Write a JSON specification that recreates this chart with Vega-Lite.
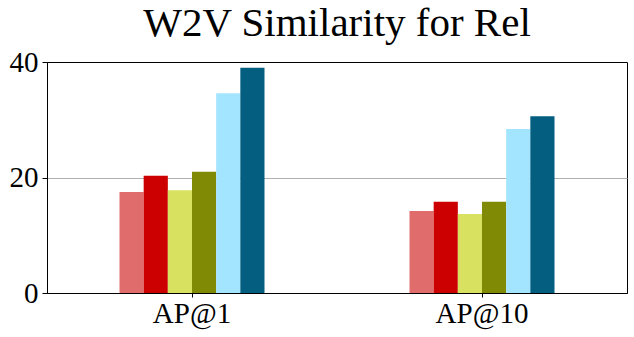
{
  "$schema": "https://vega.github.io/schema/vega-lite/v6.json",
  "width": 580,
  "height": 231,
  "autosize": {"type": "none"},
  "padding": {"left": 47, "top": 62, "right": 7, "bottom": 44},
  "background": "white",
  "title": {
    "text": "W2V Similarity for Rel",
    "font": "serif",
    "fontSize": 41,
    "fontWeight": "normal",
    "color": "black",
    "anchor": "middle",
    "frame": "group",
    "baseline": "bottom",
    "offset": -38
  },
  "data": {
    "values": [
      {"metric": "AP@1", "series": "S1", "value": 17.5},
      {"metric": "AP@1", "series": "S2", "value": 20.3},
      {"metric": "AP@1", "series": "S3", "value": 17.8},
      {"metric": "AP@1", "series": "S4", "value": 21.0},
      {"metric": "AP@1", "series": "S5", "value": 34.6},
      {"metric": "AP@1", "series": "S6", "value": 39.0},
      {"metric": "AP@10", "series": "S1", "value": 14.2},
      {"metric": "AP@10", "series": "S2", "value": 15.8},
      {"metric": "AP@10", "series": "S3", "value": 13.7},
      {"metric": "AP@10", "series": "S4", "value": 15.8},
      {"metric": "AP@10", "series": "S5", "value": 28.4},
      {"metric": "AP@10", "series": "S6", "value": 30.6}
    ]
  },
  "mark": {"type": "bar"},
  "encoding": {
    "x": {
      "field": "metric",
      "type": "nominal",
      "sort": ["AP@1", "AP@10"],
      "scale": {"paddingInner": 0.5, "paddingOuter": 0.25},
      "axis": {"title": null, "labelAngle": 0, "tickSize": 4, "labelPadding": 2, "grid": false}
    },
    "xOffset": {
      "field": "series",
      "type": "nominal",
      "sort": ["S1", "S2", "S3", "S4", "S5", "S6"],
      "scale": {"paddingInner": 0, "paddingOuter": 0}
    },
    "y": {
      "field": "value",
      "type": "quantitative",
      "scale": {"domain": [0, 40], "nice": false},
      "axis": {
        "title": null,
        "values": [0, 20, 40],
        "grid": true,
        "gridColor": {"condition": {"test": "datum.value === 20", "value": "#b0b0b0"}, "value": "transparent"},
        "tickSize": 5,
        "labelPadding": 4
      }
    },
    "color": {
      "field": "series",
      "type": "nominal",
      "scale": {
        "domain": ["S1", "S2", "S3", "S4", "S5", "S6"],
        "range": ["#e06c6c", "#cc0000", "#d8e160", "#808a05", "#a3e4ff", "#035e80"]
      },
      "legend": null
    }
  },
  "config": {
    "view": {"stroke": "black", "strokeWidth": 1},
    "axis": {
      "labelFont": "serif",
      "labelFontSize": 29,
      "labelColor": "black",
      "domainColor": "black",
      "tickColor": "black",
      "domainWidth": 1,
      "tickWidth": 1
    }
  }
}
